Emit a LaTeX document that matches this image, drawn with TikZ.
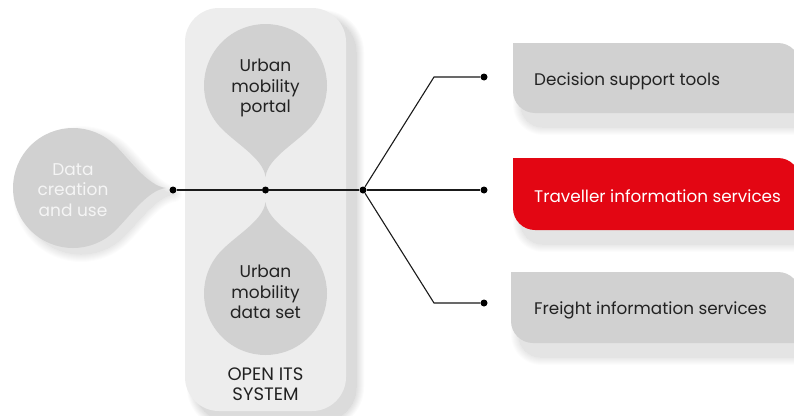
\documentclass[tikz,border=0pt]{standalone}
\usepackage{fontspec}
\setmainfont{Poppins}
\definecolor{dropgray}{HTML}{D1D1D1}
\definecolor{panelgray}{HTML}{EDEDED}
\definecolor{itsred}{HTML}{E30613}
\definecolor{txt}{HTML}{222222}
\definecolor{wirec}{HTML}{1A1A1A}
% soft shadow: dx, dy, opacity per layer, path
\newcommand\softshadow[4]{%
  \foreach \w in {0,2,...,16}{%
    \begin{scope}[transparency group, opacity=#3, shift={(#1,#2)}]
      \path[fill=black, draw=black, line width=\w pt, line join=round] #4;
    \end{scope}}}
% droplet outline: radius, tip distance
\newcommand\droppath[2]{(45:#1) arc[start angle=45, end angle=315, radius=#1]
    .. controls ({0.7071*#1+16},{-0.7071*#1+16}) and ({#2-18},-2) .. (#2,0)
    .. controls ({#2-18},2) and ({0.7071*#1+16},{0.7071*#1-16}) .. cycle}
% box outline: top, bottom, left
\newcommand\boxpath[3]{(#3,#1) -- (778,#1) arc[start angle=-90, end angle=0, radius=22]
    -- (800,#2) -- ({#3+22},#2) arc[start angle=90, end angle=180, radius=22] -- cycle}
\begin{document}
\begin{tikzpicture}[x=1pt,y=-1pt,
  droptext/.style={align=center, text=txt, font=\fontsize{17}{20.5}\selectfont, inner sep=0pt},
  boxtext/.style={anchor=west, text=txt, font=\fontsize{16.8}{20}\selectfont, inner sep=0pt},
  dot/.style={circle, fill=black, inner sep=0pt, minimum size=7pt},
  wire/.style={draw=wirec, line width=1.1pt}]
\useasboundingbox (0,0) rectangle (794,415);
\fill[white] (0,0) rectangle (794,415);
% open ITS panel
\softshadow{10}{10}{0.014}{[rounded corners=34pt] (185,8) rectangle (346,411)}
\fill[panelgray, rounded corners=34pt] (185,8) rectangle (346,411);
% droplets
\begin{scope}[shift={(73,188)}]
  \softshadow{8}{6}{0.012}{\droppath{60}{93}}
  \fill[dropgray] \droppath{60}{93};
\end{scope}
\begin{scope}[shift={(265.5,85.5)}, rotate=-90]
  \fill[dropgray] \droppath{61.5}{91.5};
\end{scope}
\begin{scope}[shift={(265.5,293.5)}, rotate=90]
  \fill[dropgray] \droppath{61.5}{91.5};
\end{scope}
% right boxes
\softshadow{8}{14}{0.012}{\boxpath{43}{113}{513}}
\fill[dropgray] \boxpath{43}{113}{513};
\softshadow{8}{14}{0.012}{\boxpath{158}{230}{513}}
\fill[itsred] \boxpath{158}{230}{513};
\softshadow{8}{14}{0.012}{\boxpath{272}{343}{511}}
\fill[dropgray] \boxpath{272}{343}{511};
% texts
\node[droptext, text=white!96!black] (datause) at (73,190) {Data\\creation\\and use};
\node[droptext] (portal) at (265.5,88) {Urban\\mobility\\portal};
\node[droptext] (dataset) at (265.5,292) {Urban\\mobility\\data set};
\node[droptext, font=\fontsize{18}{20.5}\selectfont] (its) at (265.5,384) {OPEN ITS\\SYSTEM};
\node[boxtext] (dst) at (534,81.5) {Decision support tools};
\node[boxtext, text=white] (tis) at (534,196.5) {Traveller information services};
\node[boxtext] (fis) at (534,310.5) {Freight information services};
% connectors
\node[dot] (p0) at (173,190) {};
\node[dot] (p1) at (265.5,190) {};
\node[dot] (p2) at (363,190) {};
\node[dot] (e1) at (484,77) {};
\node[dot] (e2) at (484,190) {};
\node[dot] (e3) at (484,303) {};
\coordinate (b1) at (434,77);
\coordinate (b3) at (434,303);
\draw[wire] (p0) -- (p1);
\draw[wire] (p1) -- (p2);
\draw[wire] (p2) -- (e2);
\draw[wire] (p2) -- (b1) -- (e1);
\draw[wire] (p2) -- (b3) -- (e3);
\end{tikzpicture}
\end{document}
